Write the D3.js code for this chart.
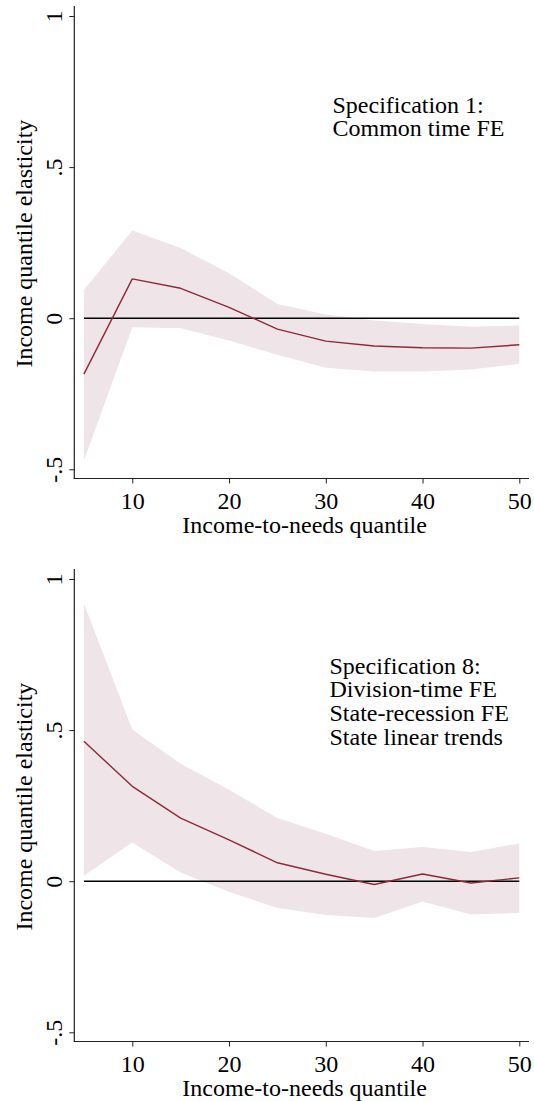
<!DOCTYPE html>
<html>
<head>
<meta charset="utf-8">
<script src="https://cdn.jsdelivr.net/npm/d3@7"></script>
<style>
  html, body { margin: 0; padding: 0; background: #fff; }
  svg { display: block; }
  text { font-family: "Liberation Serif", "Times New Roman", serif; fill: #000; }
</style>
</head>
<body>
<div id="chart"></div>
<script>
// ---- Data ----
const quantiles = [5, 10, 15, 20, 25, 30, 35, 40, 45, 50];

const spec1Est = [-0.185, 0.130, 0.099, 0.036, -0.036, -0.076, -0.092, -0.098, -0.099, -0.088];
const spec1Hi  = [ 0.093, 0.290, 0.232, 0.149,  0.047,  0.012, -0.008, -0.019, -0.028, -0.024];
const spec1Lo  = [-0.471, -0.030, -0.033, -0.074, -0.121, -0.164, -0.176, -0.176, -0.170, -0.151];

const spec8Est = [0.463, 0.314, 0.209, 0.137, 0.061, 0.023, -0.011, 0.024, -0.006, 0.011];
const spec8Hi  = [0.919, 0.502, 0.389, 0.303, 0.209, 0.157, 0.100, 0.113, 0.097, 0.125];
const spec8Lo  = [0.018, 0.128, 0.029, -0.035, -0.089, -0.112, -0.122, -0.067, -0.110, -0.105];

const xTicks = [10, 20, 30, 40, 50];
const yTicks = [-0.5, 0, 0.5, 1];
const yTickLabels = ["-.5", "0", ".5", "1"];

const spec1Notes = ["Specification 1:", "Common time FE"];
const spec8Notes = ["Specification 8:", "Division-time FE", "State-recession FE", "State linear trends"];

const xTitle = "Income-to-needs quantile";
const yTitle = "Income quantile elasticity";

// ---- Layout ----
const W = 534, H = 1101;
const svg = d3.select("#chart").append("svg").attr("width", W).attr("height", H);
svg.append("rect").attr("width", W).attr("height", H).attr("fill", "#fff");

const lineColor = "#8d2a37";
const bandColor = "#efe4e7";
const fontSize = 24;

function panel(offsetY, est, hi, lo, notes, noteX, noteY0, noteStep) {
  const g = svg.append("g").attr("transform", `translate(0,${offsetY})`);
  const x = d3.scaleLinear().domain([5, 50]).range([83.9, 519.3]);
  const y = d3.scaleLinear().domain([-0.5, 1]).range([469.3, 16]);
  const axisLeftX = 74.3, axisRightX = 529, axisBottomY = 478.5, axisTopY = 6;

  const rows = quantiles.map((q, i) => ({ q, est: est[i], hi: hi[i], lo: lo[i] }));

  // CI band
  g.append("path")
    .datum(rows)
    .attr("fill", bandColor)
    .attr("stroke", "none")
    .attr("d", d3.area().x(d => x(d.q)).y0(d => y(d.lo)).y1(d => y(d.hi)));

  // zero reference line
  g.append("line")
    .attr("x1", x(quantiles[0])).attr("x2", x(quantiles[quantiles.length - 1]))
    .attr("y1", y(0)).attr("y2", y(0))
    .attr("stroke", "#000").attr("stroke-width", 1.4);

  // estimate line
  g.append("path")
    .datum(rows)
    .attr("fill", "none")
    .attr("stroke", lineColor)
    .attr("stroke-width", 1.4)
    .attr("stroke-linejoin", "round")
    .attr("d", d3.line().x(d => x(d.q)).y(d => y(d.est)));

  // x axis
  const xAxis = g.append("g").attr("transform", `translate(0,${axisBottomY})`)
    .call(d3.axisBottom(x).tickValues(xTicks).tickSize(5).tickPadding(0).tickFormat(d3.format("d")));
  xAxis.select(".domain").remove();
  xAxis.selectAll(".tick line").attr("stroke", "#222").attr("stroke-width", 1);
  xAxis.selectAll(".tick text")
    .attr("y", 30.8).attr("dy", null)
    .style("font-size", fontSize + "px")
    .style("font-family", "'Liberation Serif', 'Times New Roman', serif")
    .attr("fill", "#000");
  xAxis.append("line")
    .attr("x1", axisLeftX - 0.5).attr("x2", axisRightX).attr("y1", 0).attr("y2", 0)
    .attr("stroke", "#222").attr("stroke-width", 1.2);

  // y axis
  const yAxis = g.append("g").attr("transform", `translate(${axisLeftX},0)`)
    .call(d3.axisLeft(y).tickValues(yTicks).tickSize(5).tickFormat((d, i) => yTickLabels[i]));
  yAxis.select(".domain").remove();
  yAxis.selectAll(".tick line").attr("stroke", "#222").attr("stroke-width", 1);
  yAxis.selectAll(".tick text")
    .attr("x", 0).attr("y", -12.6).attr("dy", null)
    .attr("transform", "rotate(-90)")
    .attr("text-anchor", "middle")
    .style("font-size", fontSize + "px")
    .style("font-family", "'Liberation Serif', 'Times New Roman', serif")
    .attr("fill", "#000");
  yAxis.append("line")
    .attr("x1", 0).attr("x2", 0).attr("y1", axisTopY).attr("y2", axisBottomY + 0.5)
    .attr("stroke", "#222").attr("stroke-width", 1.2);

  // axis titles
  g.append("text")
    .attr("x", (axisLeftX + axisRightX) / 2 + 3).attr("y", 533)
    .attr("text-anchor", "middle")
    .style("font-size", fontSize + "px")
    .text(xTitle);
  g.append("text")
    .attr("transform", `translate(31.5,${(y(1) + y(-0.5)) / 2 + 1}) rotate(-90)`)
    .attr("text-anchor", "middle")
    .style("font-size", fontSize + "px")
    .text(yTitle);

  // annotation
  const t = g.append("text").style("font-size", fontSize + "px");
  notes.forEach((s, i) => {
    t.append("tspan").attr("x", noteX).attr("y", noteY0 + i * noteStep).text(s);
  });
}

panel(0, spec1Est, spec1Hi, spec1Lo, spec1Notes, 332.5, 112.5, 23.7);
panel(563, spec8Est, spec8Hi, spec8Lo, spec8Notes, 329.5, 110.5, 23.7);
</script>
</body>
</html>
